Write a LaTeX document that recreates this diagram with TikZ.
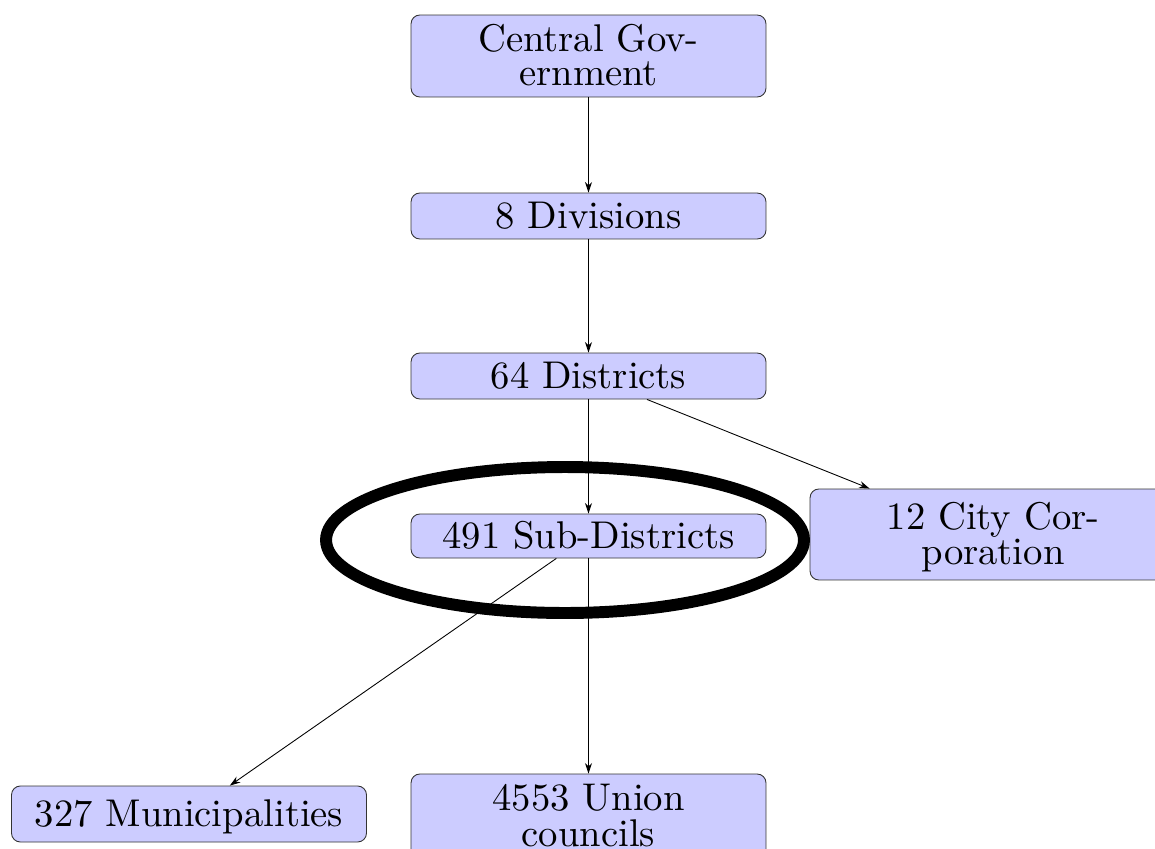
\documentclass[tikz,border=0pt]{standalone}
\usetikzlibrary{arrows.meta,shapes.geometric,calc}
\newcommand{\bxt}[1]{\raisebox{-2.2pt}[\height][\depth]{\scalebox{2.2}{\begin{tabular}{@{}c@{}}#1\end{tabular}}}}
\begin{document}
\begin{tikzpicture}[x=0.02cm,y=-0.02cm,
  box/.style={draw=black!80,fill=blue!20,rounded corners=5pt,line width=0.5pt,
    minimum width=7.1cm,align=center,inner sep=0pt,
    font=\fontsize{10}{8.5}\selectfont},
  conn/.style={line width=0.5pt,-{Stealth[length=6pt,width=4pt]}}]
\useasboundingbox (0,0) rectangle (1155,848);
\clip (0,0) rectangle (1155,848);
\node[box,minimum height=1.64cm] (cg) at (588.5,56) {\bxt{Central Gov-\\ernment}};
\node[box,minimum height=0.92cm] (div) at (588.5,216) {\bxt{8 Divisions}};
\node[box,minimum height=0.92cm] (dis) at (588.5,376) {\bxt{64 Districts}};
\node[box,minimum height=0.88cm] (sub) at (588.5,536) {\bxt{491 Sub-Districts}};
\node[box,minimum height=1.82cm,minimum width=9cm,
  label={[font=\fontsize{10}{8.5}\selectfont,xshift=-0.84cm]center:\bxt{12 City Cor-\\poration}}] (city) at (1035,534.5) {};
\node[box,minimum height=1.12cm] (mun) at (189,814) {\bxt{327 Municipalities}};
\node[box,minimum height=1.7cm] (uni) at (588.5,816.5) {\bxt{4553 Union\\councils}};
\draw[conn] (cg) -- (div);
\draw[conn] (div) -- (dis);
\draw[conn] (dis) -- (sub);
\draw[conn] (dis) -- ($(city.north west)+(60,0)$);
\draw[conn] (sub) -- (mun);
\draw[conn] (sub) -- (uni);
\node[draw=black,line width=6.8pt,ellipse,minimum width=9.56cm,minimum height=2.92cm,inner sep=0pt] (ring) at (565,540) {};
\end{tikzpicture}
\end{document}
